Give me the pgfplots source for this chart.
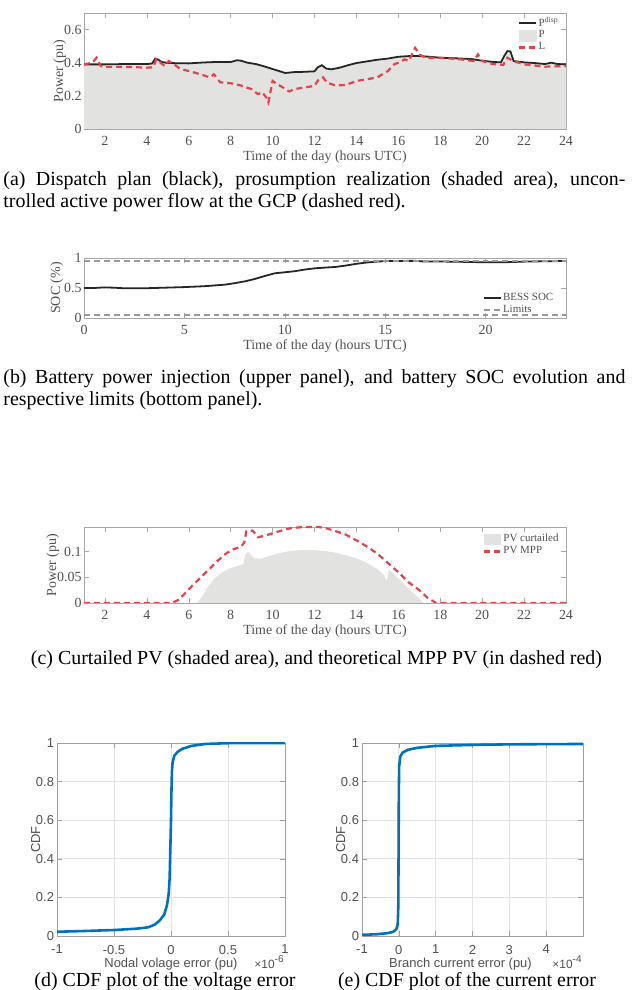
\documentclass[border=0pt]{standalone}
\usepackage{pgfplots}
\pgfplotsset{compat=1.18}
\usepackage{fontspec}
\setmainfont{Liberation Serif}
\setsansfont{Liberation Sans}

\definecolor{axgray}{HTML}{A8A8A8}
\definecolor{txtgray}{HTML}{505050}
\definecolor{fillgray}{HTML}{E2E2E0}
\definecolor{mred}{HTML}{E4424D}
\definecolor{mblue}{rgb}{0,0.447,0.741}

\pgfplotsset{
  tsax/.style={scale only axis, width=241bp, xmin=1, xmax=24,
    axis line style={axgray}, tick style={axgray}, major tick length=2.5bp,
    tick align=inside, scaled ticks=false,
    ticklabel style={font=\fontsize{7}{8}\selectfont, text=txtgray},
    yticklabel style={inner sep=1bp},
    label style={font=\fontsize{7}{8}\selectfont, text=txtgray},
    xlabel={Time of the day (hours UTC)},
    xlabel style={yshift=4bp}, ylabel style={yshift=-5.5bp},
    legend style={draw=none, fill=none, font=\fontsize{5.5}{5.5}\selectfont,
      text=txtgray, inner sep=0.5bp, row sep=-0.4bp, nodes={inner sep=0.6bp}},
    legend image code/.code={\draw[##1] (0bp,0bp) -- (8.5bp,0bp);},
    legend cell align=left,
    /pgf/number format/assume math mode=true},
  patchleg/.style={legend image code/.code={\fill[fillgray] (0bp,-2.6bp) rectangle (8.5bp,2.6bp);}},
  cdfax/.style={scale only axis, height=96.5bp, ymin=0, ymax=1,
    grid=major, grid style={gray!22},
    axis line style={gray!75}, tick style={gray!75}, major tick length=2.5bp,
    tick align=inside,
    ytick={0,0.2,0.4,0.6,0.8,1}, yticklabels={0,0.2,0.4,0.6,0.8,1},
    ticklabel style={font=\sffamily\fontsize{6.5}{7}\selectfont, text=txtgray},
    yticklabel style={inner sep=1.3bp},
    xticklabel style={yshift=-1bp},
    label style={font=\sffamily\fontsize{6.5}{7}\selectfont, text=txtgray},
    ylabel={CDF}, ylabel style={yshift=-7bp}, xlabel style={yshift=5bp}},
}

\begin{document}
\begin{tikzpicture}
\path[use as bounding box] (0,0) rectangle (316.5bp,495bp);

% (a) dispatch plan
\begin{axis}[tsax, at={(42bp,430.5bp)}, anchor=south west, height=58bp,
  ymin=0, ymax=0.7, ytick={0,0.2,0.4,0.6}, yticklabels={0,0.2,0.4,0.6},
  xtick={2,4,...,24}, ylabel={Power (pu)},
  legend style={at={(0.99,0.99)}, anchor=north east}]
\addplot[fill=fillgray, draw=none, forget plot] coordinates {
(1,0.390)(2,0.389)(3,0.392)(4,0.391)(4.25,0.396)(4.4,0.422)(4.55,0.416)(4.7,0.404)
(5,0.397)(6,0.395)(6.5,0.399)(7,0.402)(7.5,0.404)(8,0.403)(8.3,0.413)(8.5,0.410)
(8.8,0.399)(9.2,0.390)(9.6,0.376)(10,0.360)(10.3,0.348)(10.6,0.336)(11,0.341)
(11.5,0.343)(12,0.346)(12.15,0.370)(12.35,0.382)(12.55,0.363)(12.8,0.358)(13.2,0.368)
(13.6,0.383)(14,0.396)(14.5,0.406)(15,0.416)(15.5,0.423)(16,0.434)(16.5,0.438)
(17,0.438)(17.5,0.434)(18,0.428)(18.5,0.426)(19,0.423)(19.5,0.420)(20,0.410)
(20.5,0.403)(20.9,0.400)(21.05,0.436)(21.2,0.466)(21.35,0.464)(21.5,0.408)(22,0.400)
(22.5,0.396)(23,0.390)(23.3,0.398)(23.6,0.390)(24,0.388)} \closedcycle;
\addplot[black!85, line width=0.9pt, forget plot] coordinates {
(1,0.390)(2,0.390)(3,0.392)(4,0.392)(4.25,0.395)(4.4,0.425)(4.55,0.418)(4.7,0.405)
(5,0.398)(6,0.396)(6.5,0.400)(7,0.403)(7.5,0.405)(8,0.404)(8.3,0.415)(8.5,0.412)
(8.8,0.400)(9.2,0.392)(9.6,0.378)(10,0.362)(10.3,0.350)(10.6,0.338)(11,0.343)
(11.5,0.345)(12,0.348)(12.15,0.372)(12.35,0.385)(12.55,0.365)(12.8,0.360)(13.2,0.370)
(13.6,0.385)(14,0.398)(14.5,0.408)(15,0.418)(15.5,0.425)(16,0.436)(16.5,0.440)
(17,0.440)(17.5,0.436)(18,0.430)(18.5,0.428)(19,0.425)(19.5,0.422)(20,0.412)
(20.5,0.405)(20.9,0.402)(21.05,0.440)(21.2,0.470)(21.35,0.468)(21.5,0.410)(22,0.402)
(22.5,0.398)(23,0.392)(23.3,0.400)(23.6,0.392)(24,0.390)};
\addplot[mred, line width=1.1pt, densely dashed, forget plot] coordinates {
(1,0.390)(1.4,0.400)(1.6,0.430)(1.8,0.380)(2,0.375)(3,0.375)(4,0.370)(4.3,0.372)
(4.45,0.420)(4.65,0.400)(4.85,0.380)(5.05,0.410)(5.3,0.390)(5.6,0.362)(6,0.350)
(6.5,0.332)(7,0.312)(7.2,0.330)(7.5,0.282)(8,0.276)(8.5,0.262)(9,0.240)(9.3,0.210)
(9.5,0.222)(9.7,0.190)(9.8,0.160)(10,0.290)(10.2,0.272)(10.5,0.250)(10.8,0.226)
(11,0.240)(11.5,0.250)(12,0.260)(12.2,0.300)(12.4,0.312)(12.6,0.280)(13,0.262)
(13.5,0.266)(14,0.290)(14.5,0.300)(15,0.312)(15.5,0.350)(15.8,0.390)(16,0.400)
(16.3,0.420)(16.5,0.410)(16.8,0.490)(17,0.450)(17.3,0.430)(18,0.430)(19,0.420)
(19.6,0.410)(19.8,0.450)(20,0.410)(20.5,0.392)(21,0.386)(21.2,0.430)(21.5,0.410)
(22,0.390)(23,0.376)(24,0.380)};
\addlegendimage{black!85, line width=0.9pt}
\addlegendentry{P\textsuperscript{disp}}
\addlegendimage{patchleg}
\addlegendentry{P}
\addlegendimage{mred, line width=1.1pt, densely dashed}
\addlegendentry{L}
\end{axis}
\node[anchor=base west, inner sep=0, text width=311bp, align=justify,
  font=\fontsize{10}{11}\selectfont] at (1.5bp,402bp)
  {(a) Dispatch plan (black), prosumption realization (shaded area), uncon-\linebreak
   trolled active power flow at the GCP (dashed red).};

% (b) battery SOC
\begin{axis}[tsax, at={(42bp,336bp)}, anchor=south west, height=30bp,
  xmin=0, xmax=24, ymin=0, ymax=1, xtick={0,5,10,15,20},
  ytick={0,0.5,1}, yticklabels={0,0.5,1}, ylabel={SOC (\%)},
  ylabel style={yshift=1.5bp},
  legend style={at={(0.825,0.46)}, anchor=north west}]
\addplot[black!85, line width=0.9pt] coordinates {
(0,0.500)(0.5,0.500)(1,0.510)(1.5,0.505)(2,0.495)(3,0.495)(4,0.505)(5,0.515)
(6,0.530)(7,0.555)(7.5,0.580)(8,0.610)(8.5,0.650)(9,0.700)(9.5,0.745)(10,0.762)
(10.5,0.780)(11,0.808)(11.5,0.828)(12,0.840)(12.5,0.850)(13,0.872)(13.5,0.900)
(14,0.922)(14.5,0.938)(15,0.948)(15.5,0.951)(16.5,0.952)(17,0.940)(18,0.940)
(19,0.935)(20,0.928)(21,0.930)(22,0.940)(23,0.946)(24,0.950)};
\addlegendentry{BESS SOC}
\addplot[gray!80, densely dashed, line width=0.6pt] coordinates {(0,0.95)(24,0.95)};
\addlegendentry{Limits}
\addplot[gray!80, densely dashed, line width=0.6pt, forget plot] coordinates {(0,0.05)(24,0.05)};
\end{axis}
\node[anchor=base west, inner sep=0, text width=311bp, align=justify,
  font=\fontsize{10}{11}\selectfont] at (1.5bp,303bp)
  {(b) Battery power injection (upper panel), and battery SOC evolution and\linebreak
   respective limits (bottom panel).};

% (c) curtailed PV
\begin{axis}[tsax, at={(42bp,193.5bp)}, anchor=south west, height=38bp,
  ymin=0, ymax=0.148, ytick={0,0.05,0.1}, yticklabels={0,0.05,0.1},
  xtick={2,4,...,24}, ylabel={Power (pu)},
  legend style={at={(0.825,0.94)}, anchor=north west}]
\addplot[fill=fillgray, draw=none, patchleg] coordinates {
(1,0)(6.4,0)(6.6,0.010)(6.9,0.030)(7.2,0.047)(7.6,0.060)(8,0.068)(8.4,0.073)
(8.6,0.076)(8.7,0.095)(8.85,0.100)(8.95,0.094)(9.1,0.088)(9.4,0.086)(9.8,0.091)
(10.3,0.097)(10.8,0.101)(11.3,0.103)(12,0.103)(12.5,0.101)(13,0.098)(13.5,0.093)
(14,0.087)(14.5,0.078)(15,0.066)(15.3,0.055)(15.45,0.042)(15.55,0.065)(15.7,0.060)
(15.9,0.052)(16.2,0.040)(16.6,0.024)(17,0.008)(17.2,0)(24,0)} \closedcycle;
\addlegendentry{PV curtailed}
\addplot[mred, line width=1.1pt, densely dashed] coordinates {
(1,0)(5.2,0)(5.5,0.006)(5.8,0.018)(6.2,0.035)(6.6,0.051)(7,0.067)(7.4,0.083)
(7.8,0.097)(8.1,0.104)(8.5,0.110)(8.65,0.118)(8.75,0.140)(9.05,0.141)(9.3,0.128)
(9.7,0.132)(10.1,0.137)(10.5,0.142)(10.9,0.146)(11.5,0.148)(12.2,0.148)(12.6,0.145)
(13,0.140)(13.5,0.133)(14,0.122)(14.5,0.110)(15,0.096)(15.5,0.078)(16,0.060)
(16.5,0.040)(17,0.025)(17.4,0.010)(17.8,0)(24,0)};
\addlegendentry{PV MPP}
\end{axis}
\node[anchor=base, inner sep=0, font=\fontsize{10}{11}\selectfont] at (158.25bp,162.5bp)
  {(c) Curtailed PV (shaded area), and theoretical MPP PV (in dashed red)};

% (d) voltage error CDF
\begin{axis}[cdfax, name=cdfv, at={(28.5bp,27bp)}, anchor=south west, width=114bp,
  xmin=-1, xmax=1, xtick={-1,-0.5,0,0.5,1}, xticklabels={-1,-0.5,0,0.5,1},
  xlabel={Nodal volage error (pu)}]
\addplot[mblue, line width=1.3pt] coordinates {
(-1,0.022)(-0.75,0.026)(-0.5,0.031)(-0.3,0.038)(-0.2,0.045)(-0.14,0.060)(-0.1,0.080)
(-0.06,0.110)(-0.035,0.160)(-0.02,0.220)(-0.012,0.300)(-0.006,0.450)(0,0.600)
(0.004,0.750)(0.008,0.850)(0.014,0.900)(0.03,0.935)(0.06,0.955)(0.1,0.970)
(0.18,0.985)(0.3,0.995)(0.5,0.999)(1,1)};
\end{axis}
\node[anchor=base east, inner sep=0, font=\sffamily\fontsize{6}{7}\selectfont, text=txtgray]
  at ([yshift=-16bp]cdfv.south east) {×10\textsuperscript{-6}};
\node[anchor=base, inner sep=0, font=\fontsize{10}{11}\selectfont] at (82.5bp,1.8bp)
  {(d) CDF plot of the voltage error};

% (e) current error CDF
\begin{axis}[cdfax, name=cdfi, at={(181bp,27bp)}, anchor=south west, width=110.5bp,
  xmin=-1, xmax=5, xtick={-1,0,1,2,3,4}, xticklabels={-1,0,1,2,3,4},
  xlabel={Branch current error (pu)}, xlabel style={xshift=-6bp}]
\addplot[mblue, line width=1.3pt] coordinates {
(-1,0.006)(-0.6,0.009)(-0.3,0.015)(-0.15,0.022)(-0.07,0.035)(-0.03,0.060)
(-0.015,0.150)(-0.005,0.500)(0,0.750)(0.01,0.880)(0.04,0.930)(0.1,0.950)
(0.25,0.965)(0.5,0.975)(1,0.985)(2,0.990)(3,0.993)(5,0.995)};
\end{axis}
\node[anchor=base east, inner sep=0, font=\sffamily\fontsize{6}{7}\selectfont, text=txtgray]
  at ([yshift=-16bp]cdfi.south east) {×10\textsuperscript{-4}};
\node[anchor=base, inner sep=0, font=\fontsize{10}{11}\selectfont] at (233.5bp,1.8bp)
  {(e) CDF plot of the current error};
\end{tikzpicture}
\end{document}
